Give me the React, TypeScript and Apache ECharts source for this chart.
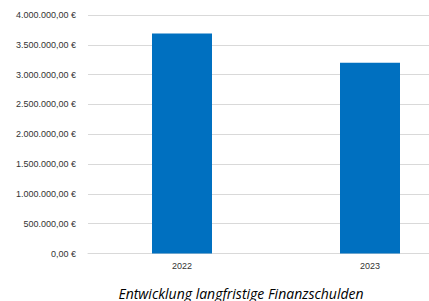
import React, { useEffect, useRef } from "react";
import * as echarts from "echarts";

const categories = ["2022", "2023"];
const values = [3690000, 3200000];
const yTicks = [0, 500000, 1000000, 1500000, 2000000, 2500000, 3000000, 3500000, 4000000];
const titleText = "Entwicklung langfristige Finanzschulden";

function fmt(v: number): string {
  const s = Math.round(v).toString().replace(/\B(?=(\d{3})+(?!\d))/g, ".");
  return s + ",00 €";
}

export default function App() {
  const ref = useRef<HTMLDivElement>(null);
  useEffect(() => {
    if (!ref.current) return;
    const chart = echarts.init(ref.current, undefined, { renderer: "svg" });
    chart.setOption({
      animation: false,
      grid: { left: 88, right: 6, top: 15, bottom: 47.5, containLabel: false },
      xAxis: {
        type: "category",
        data: categories,
        axisLine: { show: true, lineStyle: { color: "#d9d9d9", width: 1 } },
        axisTick: { show: false },
        axisLabel: { color: "#333333", fontSize: 9, fontFamily: "Liberation Sans", margin: 8 },
      },
      yAxis: {
        type: "value",
        min: yTicks[0],
        max: yTicks[yTicks.length - 1],
        interval: 500000,
        axisLine: { show: false },
        axisTick: { show: false },
        splitLine: { lineStyle: { color: "#d9d9d9", width: 1 } },
        axisLabel: {
          color: "#333333",
          fontSize: 9,
          fontFamily: "Liberation Sans",
          margin: 12,
          formatter: (v: number) => fmt(v),
        },
      },
      series: [
        {
          type: "bar",
          data: values,
          barWidth: 60,
          itemStyle: { color: "#0070c0" },
        },
      ],
      graphic: [
        {
          type: "text",
          x: 241,
          y: 293,
          style: {
            text: titleText,
            fontSize: 14,
            fontStyle: "italic",
            fontFamily: "Open Sans",
            fill: "#000000",
            align: "center",
            verticalAlign: "middle",
          },
        },
      ],
    });
    return () => chart.dispose();
  }, []);
  return (
    <div style={{ position: "absolute", left: 0, top: 0, width: 429, height: 301, overflow: "hidden", background: "#fff" }}>
      <div ref={ref} style={{ width: 470, height: 301 }} />
    </div>
  );
}
